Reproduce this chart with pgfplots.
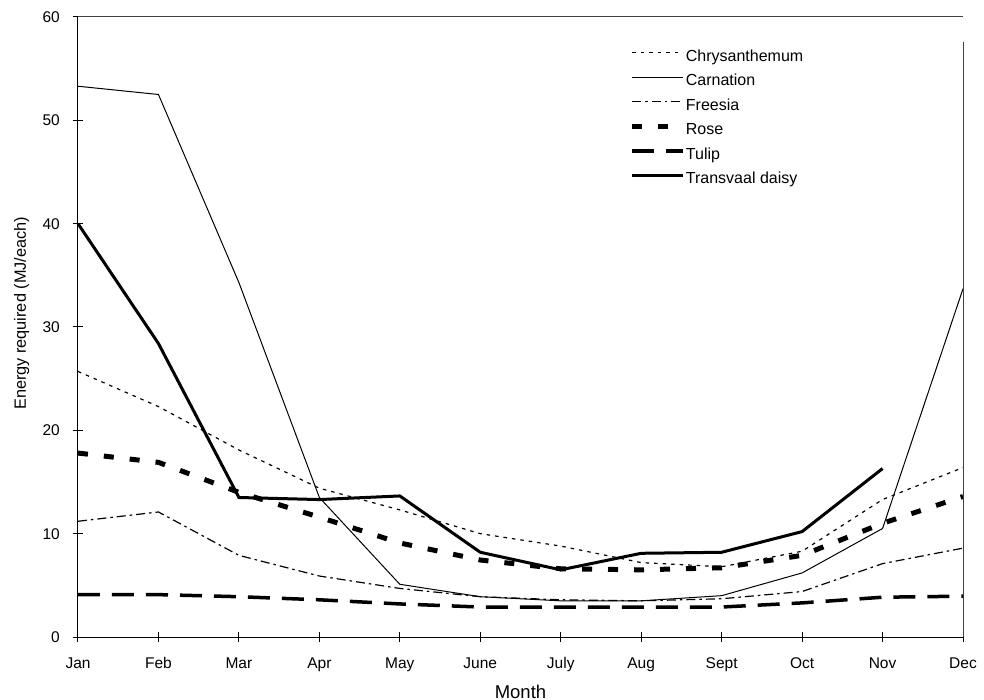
\documentclass[border=0pt]{standalone}
\usepackage{pgfplots}
\pgfplotsset{compat=1.18}
\usepackage{fontspec}
\setmainfont{Liberation Sans}

\pgfplotstableread{
x chrys carn frees rose tulip
0 25.7 53.3 11.2 17.8 4.10
1 22.3 52.5 12.1 16.9 4.10
2 18.1 34.3 7.9 14.0 3.90
3 14.4 13.5 5.9 11.6 3.60
4 12.3 5.1 4.7 9.1 3.20
5 10.0 3.9 3.9 7.45 2.90
6 8.8 3.5 3.6 6.6 2.90
7 7.2 3.5 3.5 6.5 2.90
8 6.8 4.0 3.7 6.7 2.90
9 8.3 6.2 4.4 7.9 3.30
10 13.3 10.5 7.1 11.0 3.85
11 16.4 33.7 8.6 13.6 3.95
}\maindata

\pgfplotstableread{
x daisy
0 40.0
1 28.4
2 13.5
3 13.3
4 13.65
5 8.2
6 6.5
7 8.1
8 8.2
9 10.2
10 16.3
}\daisydata

\begin{document}
\begin{tikzpicture}
\begin{axis}[
  scale only axis, width=885bp, height=620bp,
  xmin=0, xmax=11, ymin=0, ymax=60,
  clip=false,
  axis x line=bottom, axis y line=left,
  axis line style={-, line width=1bp, black},
  xtick={0,...,11},
  xticklabels={Jan,Feb,Mar,Apr,May,June,July,Aug,Sept,Oct,Nov,Dec},
  ytick={0,10,...,60},
  tick align=center, major tick length=10bp,
  tick style={black, line width=1bp},
  /pgf/number format/assume math mode=true,
  ticklabel style={font=\fontsize{15.5bp}{18bp}\selectfont},
  xticklabel style={anchor=base, inner sep=0pt, yshift=-26bp},
  yticklabel style={anchor=east, inner sep=0pt, xshift=-13bp},
  xlabel={Month},
  xlabel style={font=\fontsize{18.5bp}{22bp}\selectfont, at={(axis description cs:0.5,0)}, anchor=base, inner sep=0pt, yshift=-61bp},
  ylabel={Energy required (MJ/each)},
  ylabel style={font=\fontsize{16.3bp}{19bp}\selectfont, at={(axis description cs:-0.0638,0.522)}, anchor=center, inner sep=0pt},
  legend cell align=left,
  legend image code/.code={\draw[#1] (0bp,4bp) -- (51bp,4bp);},
  legend style={draw=none, fill=none, at={(axis cs:6.86,56.9)}, anchor=north west,
    inner sep=0pt, outer sep=0pt, row sep=9bp,
    font=\fontsize{16bp}{19bp}\selectfont,
    nodes={inner sep=0pt, text height=12bp, text depth=3.5bp},
    /tikz/every even column/.append style={column sep=4bp}},
]
\addplot[black, line width=1.2bp, dash pattern=on 3.5bp off 5bp] table[x=x, y=chrys] {\maindata};
\addlegendentry{Chrysanthemum}
\addplot[black, line width=1bp] table[x=x, y=carn] {\maindata};
\addlegendentry{Carnation}
\addplot[black, line width=1.2bp, dash pattern=on 9bp off 4bp on 2.5bp off 4bp] table[x=x, y=frees] {\maindata};
\addlegendentry{Freesia}
\addplot[black, line width=5bp, dash pattern=on 10bp off 16bp] table[x=x, y=rose] {\maindata};
\addlegendentry{Rose}
\addplot[black, line width=3.5bp, dash pattern=on 22bp off 12bp] table[x=x, y=tulip] {\maindata};
\addlegendentry{Tulip}
\addplot[black, line width=3bp] table[x=x, y=daisy] {\daisydata};
\addlegendentry{Transvaal daisy}
\draw[black!75, line width=1bp] (rel axis cs:0,1) -- (rel axis cs:1,1);
\draw[black!75, line width=1bp] (axis cs:11,57.6) -- (axis cs:11,0);
\coordinate (SW) at (rel axis cs:0,0);
\coordinate (NE) at (rel axis cs:1,1);
\end{axis}
\pgfresetboundingbox
\useasboundingbox ([shift={(-78bp,-63bp)}]SW) rectangle ([shift={(21bp,17bp)}]NE);
\end{tikzpicture}
\end{document}
